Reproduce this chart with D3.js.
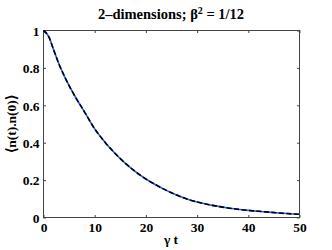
<!DOCTYPE html>
<html><head><meta charset="utf-8">
<script src="https://cdn.jsdelivr.net/npm/d3@7"></script>
<style>body{margin:0;background:#fff}svg{display:block}svg text{font-family:"Liberation Serif",serif !important;font-weight:bold}</style>
</head><body>
<script>
const tValues = [0,1,2,3,4,5,6,8,10,12,14,16,18,20,22,24,26,28,30,33,36,40,43,46,50];
const corrValues = [1.0,0.968,0.895,0.822,0.76,0.705,0.655,0.565,0.474,0.403,0.342,0.289,0.244,0.206,0.174,0.145,0.120,0.099,0.083,0.065,0.051,0.038,0.031,0.024,0.017];
const xTicks = [0,10,20,30,40,50];
const yTicks = [0,0.2,0.4,0.6,0.8,1];
const yTickLabels = ["0","0.2","0.4","0.6","0.8","1"];

const W=332,H=250;
const m={l:43.5,r:32.5,t:30.5,b:32.5};
const svg=d3.select("body").append("svg").attr("width",W).attr("height",H);
const x=d3.scaleLinear().domain([0,50]).range([m.l,W-m.r]);
const y=d3.scaleLinear().domain([0,1]).range([H-m.b,m.t]);
const ac="#444", tl=2.5;

svg.append("rect").attr("x",x(0)).attr("y",y(1)).attr("width",x(50)-x(0)).attr("height",y(0)-y(1))
  .attr("fill","none").attr("stroke",ac).attr("stroke-width",1);

const gx=svg.append("g").attr("transform",`translate(0,${y(0)})`)
  .call(d3.axisBottom(x).tickValues(xTicks).tickSize(-tl).tickPadding(5).tickFormat(d3.format("d")));
const gxt=svg.append("g").attr("transform",`translate(0,${y(1)})`)
  .call(d3.axisTop(x).tickValues(xTicks).tickSize(-tl).tickFormat(""));
const gy=svg.append("g").attr("transform",`translate(${x(0)},0)`)
  .call(d3.axisLeft(y).tickValues(yTicks).tickSize(-tl).tickPadding(4).tickFormat((d,i)=>yTickLabels[i]));
const gyr=svg.append("g").attr("transform",`translate(${x(50)},0)`)
  .call(d3.axisRight(y).tickValues(yTicks).tickSize(-tl).tickFormat(""));
[gx,gxt,gy,gyr].forEach(g=>{g.attr("font-family",null).attr("font-size",13.5);
  g.select(".domain").remove();g.selectAll(".tick line").attr("stroke",ac);
  g.selectAll("text").attr("fill","#000");});
gy.selectAll("text").attr("dy","0.36em");

const data=tValues.map((t,i)=>[t,corrValues[i]]);
const line=d3.line().x(d=>x(d[0])).y(d=>y(d[1])).curve(d3.curveMonotoneX);
svg.append("path").datum(data).attr("d",line).attr("fill","none").attr("stroke","#2d55f0").attr("stroke-width",1.6);
svg.append("path").datum(data).attr("d",line).attr("fill","none").attr("stroke","#000").attr("stroke-width",1.6).attr("stroke-dasharray","5,2.5");

svg.append("text").attr("x",171).attr("y",19).attr("text-anchor","middle").attr("font-size",14.5)
  .html('2–dimensions; β<tspan dy="-5" font-size="10">2</tspan><tspan dy="5"> = 1/12</tspan>');
svg.append("text").attr("x",171).attr("y",244).attr("text-anchor","middle").attr("font-size",13.5).text("γ t");
svg.append("text").attr("transform",`translate(16,${(y(0)+y(1))/2}) rotate(-90)`).attr("text-anchor","middle").attr("font-size",13.5).text("⟨n(t).n(0)⟩");
</script>
</body></html>
